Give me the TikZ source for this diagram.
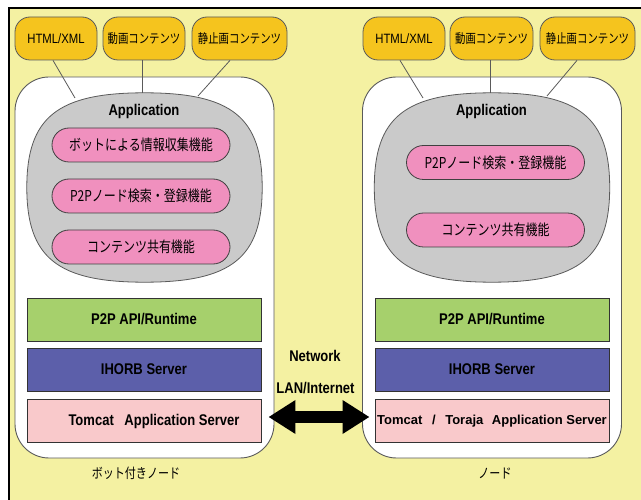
\documentclass[tikz,border=0pt]{standalone}
\usepackage{fontspec}
\usetikzlibrary{arrows.meta,calc}
\newfontfamily\narrowf{Liberation Sans}[FakeStretch=0.84]
\newfontfamily\plainf{Liberation Sans}
\newfontfamily\jpf{Noto Sans CJK JP}[FakeStretch=0.8]
\definecolor{bgyellow}{HTML}{F4F1A2}
\definecolor{gold}{HTML}{F5C41E}
\definecolor{appgray}{HTML}{CACACA}
\definecolor{funcpink}{HTML}{F090BE}
\definecolor{layergreen}{HTML}{A6D06C}
\definecolor{layerblue}{HTML}{5C5FAA}
\definecolor{layerpink}{HTML}{F9C9CB}
\definecolor{edgegray}{HTML}{5A5A5A}
\tikzset{
  topoval/.style={draw=edgegray, fill=gold, rounded corners=15pt, minimum height=43pt, inner sep=0pt, line width=0.8pt},
  nodebox/.style={draw=edgegray, fill=white, rounded corners=34pt, minimum width=259pt, minimum height=381pt, line width=0.9pt},
  appshape/.style={minimum width=235pt, minimum height=189pt, inner sep=0pt},
  appfill/.style={draw=edgegray, fill=appgray, line width=0.8pt},
  func/.style={draw=black!75, fill=funcpink, rounded corners=17pt, minimum width=178pt, minimum height=34pt, inner sep=0pt, line width=0.8pt, font=\jpf\fontsize{15}{16}\selectfont},
  layer/.style={draw=black!80, minimum width=234pt, minimum height=43pt, inner sep=0pt, line width=0.9pt, font=\narrowf\bfseries\fontsize{15.5}{17}\selectfont},
  lat/.style={font=\narrowf\fontsize{13.5}{15}\selectfont},
  jptop/.style={font=\jpf\fontsize{13}{14}\selectfont},
  caption/.style={font=\jpf\fontsize{13.8}{15}\selectfont},
  boldlbl/.style={font=\narrowf\bfseries\fontsize{15.5}{17}\selectfont, inner sep=0pt},
  conn/.style={draw=edgegray, line width=0.8pt},
  netarrow/.style={line width=12pt, {Triangle[width=32pt,length=27pt]}-{Triangle[width=32pt,length=27pt]}}
}
\begin{document}
\begin{tikzpicture}[x=1pt,y=-1pt]
\useasboundingbox (0,0) rectangle (641,500);
\fill[bgyellow] (9,8) rectangle (660,520);
\draw[line width=1.4pt] (9,520) -- (9,8) -- (660,8);

% node boxes
\node[nodebox] (lbox) at (144.5,267.5) {};
\node[nodebox] (rbox) at (492,267.5) {};

% application shapes (rounded, superellipse-like outline)
\node[appshape] (lapp) at (144.5,187.5) {};
\node[appshape] (rapp) at (492,187.5) {};
\foreach \a in {lapp,rapp}{
  \path[appfill] (\a.north)
    .. controls ($(\a.north)!0.74!(\a.north east)$) and ($(\a.east)!0.74!(\a.north east)$) .. (\a.east)
    .. controls ($(\a.east)!0.74!(\a.south east)$) and ($(\a.south)!0.74!(\a.south east)$) .. (\a.south)
    .. controls ($(\a.south)!0.74!(\a.south west)$) and ($(\a.west)!0.74!(\a.south west)$) .. (\a.west)
    .. controls ($(\a.west)!0.74!(\a.north west)$) and ($(\a.north)!0.74!(\a.north west)$) .. (\a.north) -- cycle;
}
\node[boldlbl] (lapptxt) at (144,111) {Application};
\node[boldlbl] (rapptxt) at (491.5,111) {Application};

% function ellipses
\node[func] (lf1) at (141,145) {ボットによる情報収集機能};
\node[func] (lf2) at (141,196) {P2Pノード検索・登録機能};
\node[func] (lf3) at (141,247) {コンテンツ共有機能};
\node[func] (rf1) at (495.5,162.5) {P2Pノード検索・登録機能};
\node[func] (rf2) at (495.5,230) {コンテンツ共有機能};

% layers
\node[layer, fill=layergreen] (lp2p) at (144,319.5) {P2P API/Runtime};
\node[layer, fill=layerblue] (lhorb) at (144,369.5) {IHORB Server};
\node[layer, fill=layerpink] (ltom) at (144,421) {\raisebox{3pt}{\hspace*{20pt}Tomcat\hspace{7pt} Application Server}};
\node[layer, fill=layergreen] (rp2p) at (492,319.5) {P2P API/Runtime};
\node[layer, fill=layerblue] (rhorb) at (492,369.5) {IHORB Server};
\node[layer, fill=layerpink, font=\plainf\bfseries\fontsize{13}{15}\selectfont] (rtom) at (492,421) {\raisebox{-3pt}{Tomcat\hspace{6pt} /\hspace{6pt} Toraja\hspace{5pt} Application Server}};

% top content ovals
\node[topoval, lat, minimum width=82pt] (lhtml) at (56,38.5) {HTML/XML};
\node[topoval, jptop, minimum width=82pt] (lmov) at (144,38.5) {動画コンテンツ};
\node[topoval, jptop, minimum width=95pt] (lstill) at (239.5,38.5) {静止画コンテンツ};
\node[topoval, lat, minimum width=82pt] (rhtml) at (404,38.5) {HTML/XML};
\node[topoval, jptop, minimum width=83pt] (rmov) at (491.5,38.5) {動画コンテンツ};
\node[topoval, jptop, minimum width=95pt] (rstill) at (587.5,38.5) {静止画コンテンツ};

% connector end points on the application shapes
\coordinate (la1) at (75,98);
\coordinate (la2) at (142,93);
\coordinate (la3) at (198,96);
\coordinate (ra1) at (423,98);
\coordinate (ra2) at (490,93);
\coordinate (ra3) at (547,96);
\draw[conn] ($(lhtml.south)+(-3,0)$) -- (la1);
\draw[conn] ($(lmov.south)+(-2,0)$) -- (la2);
\draw[conn] ($(lstill.south)+(-9.5,0)$) -- (la3);
\draw[conn] ($(rhtml.south)+(-4,0)$) -- (ra1);
\draw[conn] ($(rmov.south)+(-1.5,0)$) -- (ra2);
\draw[conn] ($(rstill.south)+(-10.5,0)$) -- (ra3);

% network
\node[boldlbl] (net) at (315,356) {Network};
\node[boldlbl] (lan) at (315.5,388) {LAN/Internet};
\draw[netarrow] ($(ltom.east)+(7,-4)$) -- ($(rtom.west)+(-5,-4)$);

% captions
\node[caption] (lcap) at (136,473) {ボット付きノード};
\node[caption] (rcap) at (495,473) {ノード};
\end{tikzpicture}
\end{document}
